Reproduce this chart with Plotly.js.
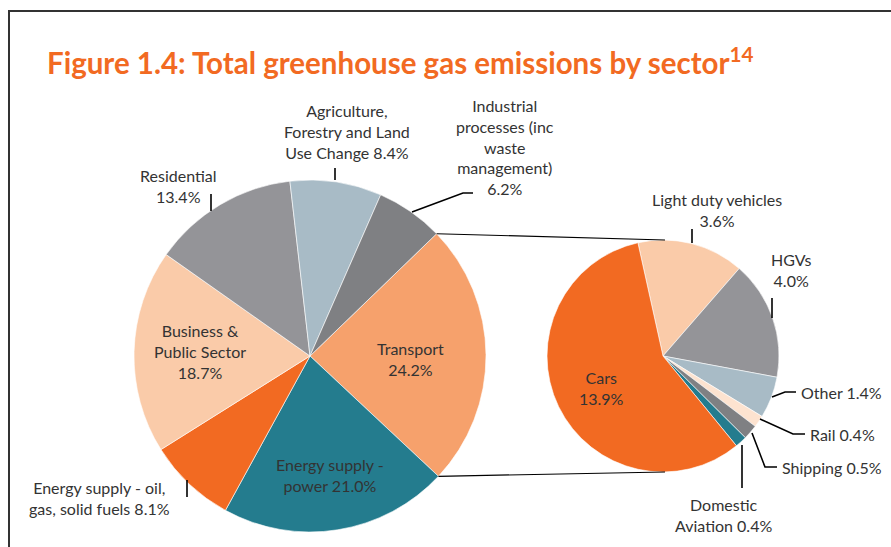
<!DOCTYPE html>
<html>
<head>
<meta charset="utf-8">
<script src="https://cdn.plot.ly/plotly-3.0.1.min.js"></script>
<style>html,body{margin:0;padding:0;background:#fff;}#chart{width:891px;height:547px;}</style>
</head>
<body>
<div id="chart"></div>
<script>
// ---- Data ----
const mainLabels = ["Transport", "Energy supply - power", "Energy supply - oil, gas, solid fuels",
  "Business & Public Sector", "Residential", "Agriculture, Forestry and Land Use Change",
  "Industrial processes (inc waste management)"];
const mainValues = [24.2, 21.0, 8.1, 18.7, 13.4, 8.4, 6.2];
const subLabels = ["Light duty vehicles", "HGVs", "Other", "Rail", "Shipping", "Domestic Aviation", "Cars"];
const subValues = [3.6, 4.0, 1.4, 0.4, 0.5, 0.4, 13.9];

// ---- Styles ----
const mainColors = ["#F6A16C", "#247C8E", "#F26A22", "#FACBA9", "#949498", "#A8BBC6", "#7F8083"];
const subColors  = ["#FACBA9", "#949498", "#A8BBC6", "#FDE3D0", "#7F8083", "#247C8E", "#F26A22"];
const W = 891, H = 547;
const px = x => x / W, py = y => 1 - y / H;
const main = {cx: 310, cy: 356, r: 176, rot: 46};
const sub  = {cx: 663, cy: 356, r: 116, rot: -12.5};
const FONT = "Lato, 'Open Sans', sans-serif";
const TXT = "#333333";

function domainOf(p) {
  return {x: [px(p.cx - p.r), px(p.cx + p.r)], y: [py(p.cy + p.r), py(p.cy - p.r)]};
}

const traces = [
  {type: "pie", labels: mainLabels, values: mainValues, sort: false, direction: "clockwise",
   rotation: main.rot, domain: domainOf(main), textinfo: "none", hoverinfo: "label+value",
   marker: {colors: mainColors, line: {color: "#ffffff", width: 0.6}}, showlegend: false},
  {type: "pie", labels: subLabels, values: subValues, sort: false, direction: "clockwise",
   rotation: sub.rot, domain: domainOf(sub), textinfo: "none", hoverinfo: "label+value",
   marker: {colors: subColors, line: {color: "#ffffff", width: 0.6}}, showlegend: false}
];

// connector lines computed from the Transport slice boundaries
const total = mainValues.reduce((a, b) => a + b, 0);
const a0 = main.rot * Math.PI / 180;
const a1 = (main.rot + 360 * mainValues[0] / total) * Math.PI / 180;
const pt = a => [main.cx + main.r * Math.sin(a), main.cy - main.r * Math.cos(a)];
const p0 = pt(a0), p1 = pt(a1);

function path(points) {
  return points.map((p, i) => (i ? "L" : "M") + px(p[0]) + "," + py(p[1])).join(" ");
}
const shapes = [
  {type: "rect", xref: "paper", yref: "paper", x0: px(9), x1: px(960), y0: py(600), y1: py(11),
   line: {color: "#333333", width: 2}},
  {type: "path", xref: "paper", yref: "paper", path: path([p0, [sub.cx + 2, sub.cy - sub.r]]), line: {color: "#000", width: 1.2}},
  {type: "path", xref: "paper", yref: "paper", path: path([p1, [sub.cx + 2, sub.cy + sub.r]]), line: {color: "#000", width: 1.2}}
];
const leaders = [
  [[335, 168], [335, 180]],
  [[473, 193], [463, 193], [412, 212]],
  [[211, 194], [211, 211]],
  [[187, 480], [187, 497]],
  [[692, 229], [692, 243]],
  [[772, 298], [772, 318]],
  [[796, 392], [785, 392], [772, 397]],
  [[805, 434], [793, 434], [760, 419]],
  [[777, 467], [765, 467], [752, 433]],
  [[742, 445], [742, 488]]
];
leaders.forEach(l => shapes.push({type: "path", xref: "paper", yref: "paper", path: path(l),
  line: {color: "#000", width: 1.6}}));

function ann(text, x, y, xanchor) {
  return {xref: "paper", yref: "paper", x: px(x), y: py(y), text: text, showarrow: false,
    xanchor: xanchor || "center", yanchor: "middle", align: xanchor === "left" ? "left" : "center",
    font: {family: FONT, size: 16, color: TXT}};
}
const annotations = [
  {xref: "paper", yref: "paper", x: px(45), y: py(61), xanchor: "left", yanchor: "middle", showarrow: false,
   text: "<b>Figure 1.4: Total greenhouse gas emissions by sector<sup>14</sup></b>",
   font: {family: FONT, size: 29.5, color: "#F26A22"}},
  ann("Agriculture,<br>Forestry and Land<br>Use Change 8.4%", 347, 132),
  ann("Industrial<br>processes (inc<br>waste<br>management)<br>6.2%", 505, 147),
  ann("Residential<br>13.4%", 178, 186),
  ann("Business &<br>Public Sector<br>18.7%", 200, 351),
  ann("Transport<br>24.2%", 410, 359),
  ann("Energy supply -<br>power 21.0%", 330, 475),
  ann("Energy supply - oil,<br>gas, solid fuels 8.1%", 99, 498),
  ann("Cars<br>13.9%", 601, 388),
  ann("Light duty vehicles<br>3.6%", 717, 210),
  ann("HGVs<br>4.0%", 791, 270),
  ann("Other 1.4%", 799, 392, "left"),
  ann("Rail 0.4%", 808, 434, "left"),
  ann("Shipping 0.5%", 780, 467, "left"),
  ann("Domestic<br>Aviation 0.4%", 723, 515)
];

const layout = {
  width: W, height: H, margin: {l: 0, r: 0, t: 0, b: 0},
  paper_bgcolor: "#ffffff", plot_bgcolor: "#ffffff",
  shapes: shapes, annotations: annotations, showlegend: false,
  font: {family: FONT, color: TXT}
};
Plotly.newPlot("chart", traces, layout, {staticPlot: true, displayModeBar: false});
</script>
</body>
</html>
